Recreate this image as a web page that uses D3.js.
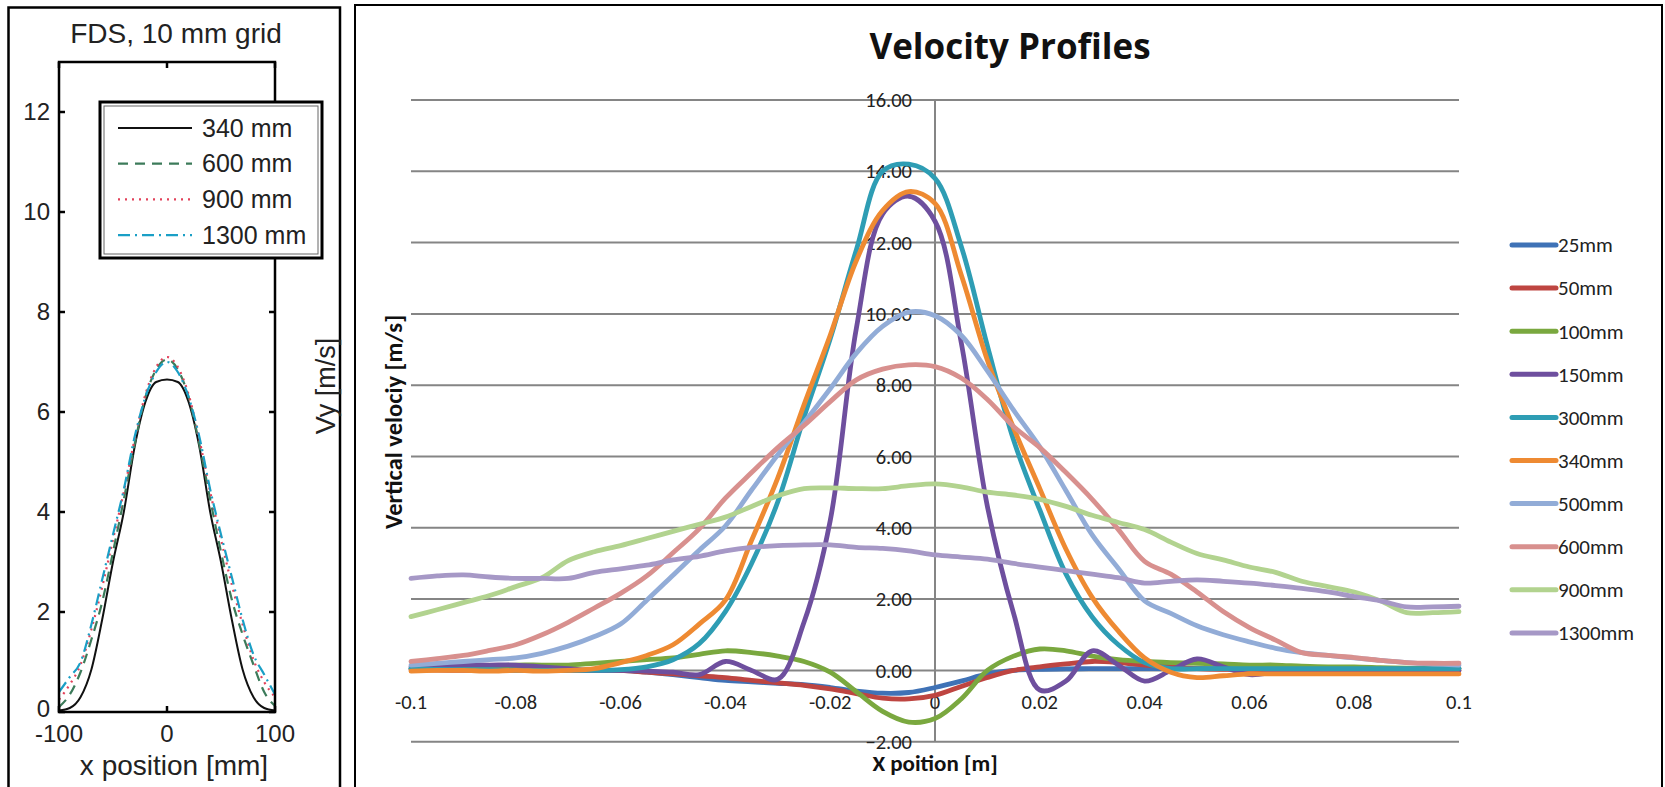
<!DOCTYPE html>
<html>
<head>
<meta charset="utf-8">
<script src="https://cdn.jsdelivr.net/npm/d3@7/dist/d3.min.js"></script>
<style>
  html, body { margin: 0; padding: 0; background: #fff; }
  svg { display: block; }
</style>
</head>
<body>
<svg id="chart" width="1665" height="787"></svg>
<script>
// ---------- Left panel: FDS simulation, 10 mm grid (x in mm, Vy in m/s) ----------
const fdsX = [-100, -90, -80, -70, -60, -50, -40, -30, -20, -10, 0, 10, 20, 30, 40, 50, 60, 70, 80, 90, 100];
const fds340 = [0.03, 0.08, 0.30, 0.85, 1.85, 3.00, 4.00, 5.30, 6.20, 6.60, 6.65, 6.60, 6.20, 5.30, 4.00, 3.00, 1.85, 0.85, 0.30, 0.08, 0.03];
const fds600 = [0.10, 0.35, 0.80, 1.45, 2.20, 3.20, 4.25, 5.35, 6.30, 6.85, 7.05, 6.85, 6.30, 5.35, 4.25, 3.20, 2.25, 1.55, 0.95, 0.40, 0.12];
const fds900 = [0.25, 0.55, 0.95, 1.65, 2.50, 3.45, 4.40, 5.45, 6.35, 6.90, 7.10, 6.90, 6.35, 5.45, 4.40, 3.45, 2.55, 1.75, 1.05, 0.60, 0.30];
const fds1300 = [0.40, 0.70, 1.00, 1.75, 2.65, 3.55, 4.45, 5.50, 6.30, 6.80, 7.00, 6.80, 6.30, 5.50, 4.45, 3.55, 2.70, 1.85, 1.15, 0.75, 0.35];
const fdsNames = ["340 mm", "600 mm", "900 mm", "1300 mm"];
const fdsYTicks = [0, 2, 4, 6, 8, 10, 12];
const fdsXTicks = [-100, 0, 100];

// ---------- Right panel: measured vertical velocity profiles (x in m, m/s) ----------
const profileX = [-0.100, -0.095, -0.090, -0.085, -0.080, -0.075, -0.070, -0.065, -0.060, -0.055,
                  -0.050, -0.045, -0.040, -0.035, -0.030, -0.025, -0.020, -0.015, -0.010, -0.005,
                   0.000,  0.005,  0.010,  0.015,  0.020,  0.025,  0.030,  0.035,  0.040,  0.045,
                   0.050,  0.055,  0.060,  0.065,  0.070,  0.075,  0.080,  0.085,  0.090,  0.095, 0.100];
const v25 = [0.05, 0.05, 0.05, 0.05, 0.05, 0.02, 0.00, 0.00, 0.00, -0.05,
             -0.12, -0.20, -0.28, -0.32, -0.36, -0.40, -0.48, -0.58, -0.64, -0.62,
             -0.48, -0.30, -0.10, 0.00, 0.03, 0.04, 0.05, 0.05, 0.05, 0.05,
             0.05, 0.05, 0.05, 0.05, 0.05, 0.05, 0.05, 0.05, 0.05, 0.05, 0.05];
const v50 = [0.02, 0.01, 0.00, 0.00, 0.00, 0.00, 0.00, 0.00, 0.00, -0.05,
             -0.10, -0.15, -0.20, -0.28, -0.35, -0.42, -0.52, -0.65, -0.78, -0.80,
             -0.70, -0.45, -0.20, 0.00, 0.10, 0.18, 0.25, 0.22, 0.15, 0.10,
             0.05, 0.03, 0.03, 0.02, 0.02, 0.01, 0.01, 0.00, 0.00, 0.00, 0.00];
const v100 = [0.05, 0.08, 0.10, 0.12, 0.15, 0.15, 0.15, 0.20, 0.25, 0.30,
              0.35, 0.45, 0.55, 0.50, 0.40, 0.25, -0.05, -0.60, -1.15, -1.45,
              -1.35, -0.80, 0.00, 0.40, 0.60, 0.55, 0.40, 0.30, 0.25, 0.22,
              0.20, 0.18, 0.15, 0.15, 0.12, 0.10, 0.10, 0.08, 0.06, 0.05, 0.05];
const v150 = [0.10, 0.12, 0.15, 0.15, 0.15, 0.10, 0.05, 0.00, 0.00, -0.02,
              -0.05, -0.12, 0.25, 0.00, -0.25, 1.35, 4.20, 9.60, 12.80, 13.30,
              12.60, 9.20, 4.60, 1.60, -0.55, -0.30, 0.55, 0.15, -0.30, 0.00,
              0.32, 0.10, -0.12, -0.05, 0.00, 0.00, 0.00, 0.00, 0.00, 0.00, 0.00];
const v300 = [0.05, 0.03, 0.02, 0.02, 0.00, 0.00, 0.00, 0.00, 0.02, 0.10,
              0.30, 0.75, 1.65, 3.00, 4.73, 7.10, 9.30, 11.80, 14.00, 14.20,
              13.80, 11.90, 9.10, 6.46, 4.50, 2.70, 1.50, 0.72, 0.22, 0.05,
              0.05, 0.05, 0.05, 0.05, 0.05, 0.05, 0.05, 0.05, 0.05, 0.05, 0.05];
const v340 = [-0.02, 0.00, 0.00, -0.02, 0.00, -0.02, 0.00, 0.05, 0.22, 0.42,
              0.72, 1.30, 1.97, 3.65, 5.40, 7.45, 9.40, 11.50, 12.90, 13.43,
              13.10, 11.10, 8.70, 6.80, 5.10, 3.40, 2.05, 1.10, 0.35, -0.05,
              -0.20, -0.15, -0.10, -0.10, -0.10, -0.10, -0.10, -0.10, -0.10, -0.10, -0.10];
const v500 = [0.15, 0.20, 0.25, 0.30, 0.35, 0.48, 0.68, 0.95, 1.30, 1.97,
              2.67, 3.37, 4.05, 5.06, 6.05, 6.95, 7.90, 8.90, 9.65, 10.05,
              9.95, 9.40, 8.40, 7.30, 6.27, 5.04, 3.80, 2.86, 1.95, 1.60,
              1.25, 1.00, 0.80, 0.62, 0.50, 0.42, 0.35, 0.28, 0.22, 0.18, 0.15];
const v600 = [0.25, 0.33, 0.42, 0.56, 0.72, 1.00, 1.35, 1.75, 2.16, 2.65,
              3.30, 3.97, 4.83, 5.55, 6.25, 6.87, 7.54, 8.15, 8.45, 8.57,
              8.52, 8.20, 7.60, 6.84, 6.25, 5.55, 4.80, 3.95, 3.06, 2.70,
              2.20, 1.65, 1.20, 0.85, 0.50, 0.42, 0.36, 0.28, 0.22, 0.20, 0.20];
const v900 = [1.51, 1.70, 1.90, 2.10, 2.35, 2.60, 3.08, 3.33, 3.50, 3.70,
              3.90, 4.10, 4.30, 4.60, 4.90, 5.10, 5.12, 5.10, 5.10, 5.18,
              5.23, 5.15, 5.00, 4.92, 4.80, 4.60, 4.35, 4.15, 3.95, 3.60,
              3.28, 3.10, 2.90, 2.75, 2.50, 2.35, 2.20, 1.95, 1.62, 1.62, 1.65];
const v1300 = [2.58, 2.65, 2.68, 2.62, 2.58, 2.58, 2.58, 2.75, 2.85, 2.95,
               3.10, 3.20, 3.35, 3.45, 3.50, 3.52, 3.52, 3.45, 3.42, 3.35,
               3.24, 3.18, 3.12, 3.00, 2.90, 2.80, 2.70, 2.60, 2.45, 2.50,
               2.54, 2.50, 2.45, 2.38, 2.30, 2.20, 2.07, 1.95, 1.78, 1.78, 1.80];
const profileNames = ["25mm", "50mm", "100mm", "150mm", "300mm", "340mm", "500mm", "600mm", "900mm", "1300mm"];
const profileColors = ["#3f72b6", "#be4541", "#7aa83f", "#6e4f9e", "#2e9db4", "#ee8a32", "#92acd7", "#d8908e", "#b2d38f", "#a698c6"];
const velocityTicks = [-2, 0, 2, 4, 6, 8, 10, 12, 14, 16];
const positionTicks = [-0.1, -0.08, -0.06, -0.04, -0.02, 0, 0.02, 0.04, 0.06, 0.08, 0.1];
const positionTickLabels = ["-0.1", "-0.08", "-0.06", "-0.04", "-0.02", "0", "0.02", "0.04", "0.06", "0.08", "0.1"];

const svg = d3.select("#chart");

// ======================= Left panel =======================
const matFont = "'Liberation Sans', Arial, Helvetica, sans-serif";
const left = svg.append("g");

left.append("rect")
  .attr("x", 8.5).attr("y", 7.5).attr("width", 331.5).attr("height", 800)
  .attr("fill", "none").attr("stroke", "#000").attr("stroke-width", 2.5);

const fx = d3.scaleLinear().domain([-100, 100]).range([59, 275]);
const fy = d3.scaleLinear().domain([0, 13]).range([712, 62]);

left.append("text")
  .attr("x", 176).attr("y", 43)
  .attr("text-anchor", "middle")
  .style("font-family", matFont).style("font-size", "28px").attr("fill", "#222")
  .text("FDS, 10 mm grid");

// curves
const fdsData = [fds340, fds600, fds900, fds1300];
const fdsStyles = [
  { color: "#111111", dash: null, width: 2 },
  { color: "#3c7b5a", dash: "10,7", width: 2.2 },
  { color: "#e2415a", dash: "2,5", width: 2.2 },
  { color: "#1a9fc6", dash: "12,5,2,5", width: 2.2 }
];
const fdsLine = d3.line().x(d => fx(d[0])).y(d => fy(d[1])).curve(d3.curveMonotoneX);
fdsData.forEach((vals, k) => {
  const pts = fdsX.map((x, i) => [x, vals[i]]);
  left.append("path")
    .attr("d", fdsLine(pts))
    .attr("fill", "none")
    .attr("stroke", fdsStyles[k].color)
    .attr("stroke-width", fdsStyles[k].width)
    .attr("stroke-dasharray", fdsStyles[k].dash);
});

// axes box with inward ticks
left.append("rect")
  .attr("x", fx(-100)).attr("y", fy(13))
  .attr("width", fx(100) - fx(-100)).attr("height", fy(0) - fy(13))
  .attr("fill", "none").attr("stroke", "#000").attr("stroke-width", 2.5);

fdsYTicks.forEach(t => {
  left.append("line").attr("x1", fx(-100)).attr("x2", fx(-100) + 6)
    .attr("y1", fy(t)).attr("y2", fy(t)).attr("stroke", "#000").attr("stroke-width", 2.5);
  left.append("line").attr("x1", fx(100)).attr("x2", fx(100) - 6)
    .attr("y1", fy(t)).attr("y2", fy(t)).attr("stroke", "#000").attr("stroke-width", 2.5);
  left.append("text")
    .attr("x", fx(-100) - 9).attr("y", fy(t) - (t === 0 ? 3 : 0))
    .attr("dy", "0.35em").attr("text-anchor", "end")
    .style("font-family", matFont).style("font-size", "24px").attr("fill", "#222")
    .text(t);
});
fdsXTicks.forEach(t => {
  left.append("line").attr("x1", fx(t)).attr("x2", fx(t))
    .attr("y1", fy(0)).attr("y2", fy(0) - 6).attr("stroke", "#000").attr("stroke-width", 2.5);
  left.append("line").attr("x1", fx(t)).attr("x2", fx(t))
    .attr("y1", fy(13)).attr("y2", fy(13) + 6).attr("stroke", "#000").attr("stroke-width", 2.5);
  left.append("text")
    .attr("x", fx(t)).attr("y", 742)
    .attr("text-anchor", "middle")
    .style("font-family", matFont).style("font-size", "24px").attr("fill", "#222")
    .text(t);
});

left.append("text")
  .attr("x", 174).attr("y", 775)
  .attr("text-anchor", "middle")
  .style("font-family", matFont).style("font-size", "28px").attr("fill", "#222")
  .text("x position [mm]");

left.append("text")
  .attr("transform", "translate(326,386) rotate(-90)")
  .attr("text-anchor", "middle").attr("dy", "0.35em")
  .style("font-family", matFont).style("font-size", "27px").attr("fill", "#222")
  .text("Vy [m/s]");

// legend
const lg = left.append("g");
lg.append("rect").attr("x", 100).attr("y", 102).attr("width", 222).attr("height", 156)
  .attr("fill", "#fff").attr("stroke", "#000").attr("stroke-width", 3);
lg.append("rect").attr("x", 104).attr("y", 106).attr("width", 214).attr("height", 148)
  .attr("fill", "none").attr("stroke", "#666").attr("stroke-width", 1);
fdsNames.forEach((name, k) => {
  const y = 128 + k * 35.7;
  lg.append("line").attr("x1", 118).attr("x2", 192).attr("y1", y).attr("y2", y)
    .attr("stroke", fdsStyles[k].color).attr("stroke-width", fdsStyles[k].width)
    .attr("stroke-dasharray", fdsStyles[k].dash);
  lg.append("text").attr("x", 202).attr("y", y).attr("dy", "0.35em")
    .style("font-family", matFont).style("font-size", "25px").attr("fill", "#222")
    .text(name);
});

// ======================= Right panel =======================
const xlFont = "Carlito, Calibri, Lato, 'Open Sans', sans-serif";
const xlTitleFont = "'Open Sans', Lato, sans-serif";
const right = svg.append("g");

right.append("rect")
  .attr("x", 355).attr("y", 5).attr("width", 1307).attr("height", 800)
  .attr("fill", "#fff").attr("stroke", "#000").attr("stroke-width", 2);

const px = d3.scaleLinear().domain([-0.1, 0.1]).range([411, 1459]);
const py = d3.scaleLinear().domain([-2, 16]).range([741.7, 100]);

// horizontal gridlines
right.append("g").selectAll("line").data(velocityTicks).join("line")
  .attr("x1", px(-0.1)).attr("x2", px(0.1))
  .attr("y1", d => py(d)).attr("y2", d => py(d))
  .attr("stroke", "#858585").attr("stroke-width", 2);

// vertical axis at x = 0
right.append("line")
  .attr("x1", px(0)).attr("x2", px(0))
  .attr("y1", py(16)).attr("y2", py(-2))
  .attr("stroke", "#858585").attr("stroke-width", 2);

// y tick labels
right.append("g").selectAll("text").data(velocityTicks).join("text")
  .attr("x", px(0) - 23).attr("y", d => py(d))
  .attr("dy", "0.35em").attr("text-anchor", "end")
  .style("font-family", xlFont).style("font-size", "20.5px").attr("fill", "#222")
  .text(d => d3.format(".2f")(d));

// x tick labels along the zero line
right.append("g").selectAll("text").data(positionTicks).join("text")
  .attr("x", d => px(d)).attr("y", py(0) + 31)
  .attr("dy", "0.35em").attr("text-anchor", "middle")
  .style("font-family", xlFont).style("font-size", "20.5px").attr("fill", "#222")
  .text((d, i) => positionTickLabels[i]);

// series
const profileData = [v25, v50, v100, v150, v300, v340, v500, v600, v900, v1300];
const profileLine = d3.line().x(d => px(d[0])).y(d => py(d[1])).curve(d3.curveCatmullRom.alpha(0.5));
profileData.forEach((vals, k) => {
  const pts = profileX.map((x, i) => [x, vals[i]]);
  right.append("path")
    .attr("d", profileLine(pts))
    .attr("fill", "none")
    .attr("stroke", profileColors[k])
    .attr("stroke-width", 4.8)
    .attr("stroke-linejoin", "round")
    .attr("stroke-linecap", "round");
});

// titles
right.append("text")
  .attr("x", 1010).attr("y", 59)
  .attr("text-anchor", "middle")
  .style("font-family", xlTitleFont).style("font-weight", "bold").style("font-size", "35px").attr("fill", "#111")
  .text("Velocity Profiles");

right.append("text")
  .attr("x", px(0)).attr("y", 763).attr("dy", "0.35em")
  .attr("text-anchor", "middle")
  .style("font-family", xlFont).style("font-weight", "bold").style("font-size", "23px").attr("fill", "#111")
  .text("X poition [m]");

right.append("text")
  .attr("transform", "translate(393,422) rotate(-90)")
  .attr("text-anchor", "middle").attr("dy", "0.35em")
  .style("font-family", xlFont).style("font-weight", "bold").style("font-size", "24.5px").attr("fill", "#111")
  .text("Vertical velociy [m/s]");

// legend
const rl = right.append("g");
profileNames.forEach((name, k) => {
  const y = 245 + k * 43.1;
  rl.append("line").attr("x1", 1512).attr("x2", 1556).attr("y1", y).attr("y2", y)
    .attr("stroke", profileColors[k]).attr("stroke-width", 5).attr("stroke-linecap", "round");
  rl.append("text").attr("x", 1558).attr("y", y).attr("dy", "0.35em")
    .style("font-family", xlFont).style("font-size", "21px").attr("fill", "#222")
    .text(name);
});
</script>
</body>
</html>
